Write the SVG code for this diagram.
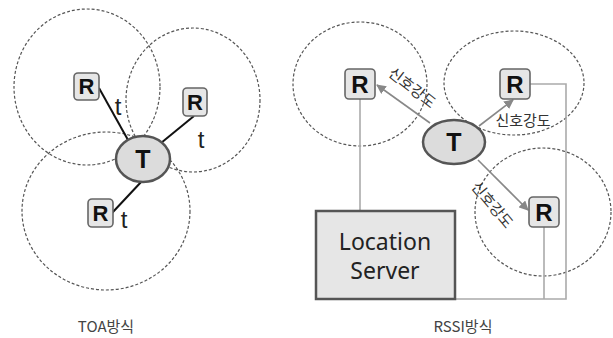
<svg xmlns="http://www.w3.org/2000/svg" width="613" height="338" viewBox="0 0 613 338">
<style>
.rng{fill:none;stroke:#555;stroke-width:1.2;stroke-dasharray:3 2}
.rbox{fill:#e6e6e6;stroke:#666;stroke-width:1.6}
.rt{font-family:"Liberation Sans","Noto Sans",sans-serif;font-weight:bold;fill:#111;text-anchor:middle}
.tn{fill:#dcdcdc;stroke:#555;stroke-width:2.5}
.tt{font-family:"Liberation Sans","Noto Sans",sans-serif;font-weight:bold;font-size:25px;fill:#111;text-anchor:middle}
.toa{stroke:#111;stroke-width:2;fill:none}
.lt{font-family:"Liberation Sans","Noto Sans",sans-serif;font-size:24px;fill:#222}
.sig{stroke:#888;stroke-width:1.6;fill:none;marker-end:url(#ah)}
.wire{stroke:#aaa;stroke-width:1.6;fill:none}
.kr{font-family:"Noto Sans CJK KR","Noto Sans",sans-serif;font-size:15px;fill:#333;text-anchor:middle}
.cap{font-family:"Noto Sans CJK KR","Noto Sans",sans-serif;font-size:15px;fill:#444;text-anchor:middle}
</style>
<defs>
<marker id="ah" viewBox="0 0 10 10" refX="9" refY="5" markerWidth="6" markerHeight="6" orient="auto" markerUnits="strokeWidth">
<path d="M0,0 L10,5 L0,10 z" fill="#888"/>
</marker>
</defs>

<!-- TOA ranges -->
<g id="toa-ranges">
<ellipse class="rng" cx="87" cy="87" rx="73" ry="78"/>
<ellipse class="rng" cx="193" cy="100" rx="67" ry="72"/>
<ellipse class="rng" cx="106" cy="211" rx="84" ry="79"/>
</g>

<!-- RSSI ranges -->
<g id="rssi-ranges">
<ellipse class="rng" cx="360" cy="84" rx="67" ry="62"/>
<ellipse class="rng" cx="514" cy="83" rx="70" ry="52"/>
<ellipse class="rng" cx="543" cy="212" rx="68" ry="64"/>
</g>

<g id="connectors">
<line class="toa" x1="99" y1="88" x2="128" y2="140"/>
<line class="toa" x1="194" y1="116" x2="161" y2="143"/>
<line class="toa" x1="112" y1="213" x2="142" y2="181"/>
<line class="sig" x1="430" y1="123" x2="377" y2="85"/>
<line class="sig" x1="479" y1="126" x2="513" y2="100"/>
<line class="sig" x1="478" y1="160" x2="528" y2="210"/>
<line class="wire" x1="360" y1="99" x2="360" y2="211"/>
<polyline class="wire" points="530,84 566,84 566,299 455,299"/>
<line class="wire" x1="544" y1="227" x2="544" y2="299"/>
</g>

<g id="toa-t-labels">
<text class="lt" x="118" y="115" text-anchor="middle">t</text>
<text class="lt" x="201" y="148" text-anchor="middle">t</text>
<text class="lt" x="124" y="228" text-anchor="middle">t</text>
</g>

<g id="toa-T">
<ellipse class="tn" cx="143" cy="159" rx="27" ry="23"/>
<text class="tt" x="143" y="168">T</text>
</g>
<g id="toa-R1">
<rect class="rbox" x="74" y="73" width="25" height="27" rx="4"/>
<text class="rt" x="86.5" y="94" font-size="22">R</text>
</g>
<g id="toa-R2">
<rect class="rbox" x="183" y="88" width="24" height="28" rx="4"/>
<text class="rt" x="195" y="110" font-size="22">R</text>
</g>
<g id="toa-R3">
<rect class="rbox" x="88" y="199" width="25" height="28" rx="4"/>
<text class="rt" x="100.5" y="221" font-size="22">R</text>
</g>

<g id="rssi-T">
<ellipse class="tn" cx="454" cy="142" rx="31" ry="22"/>
<text class="tt" x="454" y="151">T</text>
</g>
<g id="rssi-R1">
<rect class="rbox" x="345" y="69" width="30" height="30" rx="4"/>
<text class="rt" x="360" y="93" font-size="24">R</text>
</g>
<g id="rssi-R2">
<rect class="rbox" x="500" y="69" width="30" height="30" rx="4"/>
<text class="rt" x="515" y="93" font-size="24">R</text>
</g>
<g id="rssi-R3">
<rect class="rbox" x="529" y="197" width="30" height="30" rx="4"/>
<text class="rt" x="544" y="221" font-size="24">R</text>
</g>

<g id="signal-labels">
<text class="kr" transform="translate(412,88) rotate(38)" y="5">신호강도</text>
<text class="kr" x="523" y="126">신호강도</text>
<text class="kr" transform="translate(492,205) rotate(50)" y="5">신호강도</text>
</g>

<g id="location-server">
<rect x="316" y="211" width="139" height="88" fill="#e6e6e6" stroke="#555" stroke-width="2.5"/>
<text x="385" y="250" font-family="'Noto Sans','Open Sans',sans-serif" font-size="23" fill="#222" text-anchor="middle">Location</text>
<text x="385" y="279" font-family="'Noto Sans','Open Sans',sans-serif" font-size="23" fill="#222" text-anchor="middle">Server</text>
</g>

<g id="captions">
<text class="cap" x="106" y="332">TOA방식</text>
<text class="cap" x="463" y="332">RSSI방식</text>
</g>
</svg>
